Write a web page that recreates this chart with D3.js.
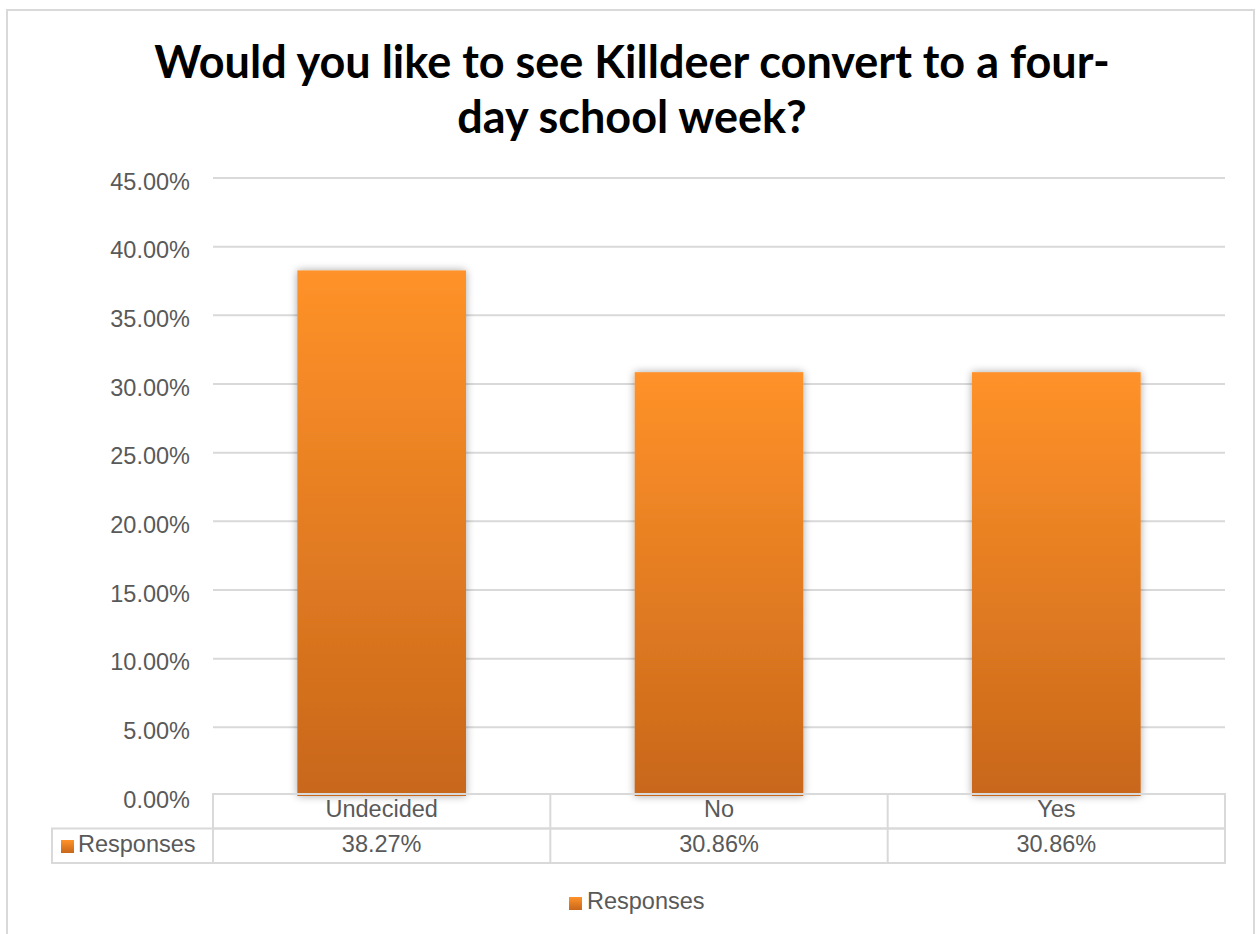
<!DOCTYPE html>
<html>
<head>
<meta charset="utf-8">
<script src="https://cdn.jsdelivr.net/npm/d3@7"></script>
<style>
  html, body { margin: 0; padding: 0; background: #fff; }
  svg { display: block; }
</style>
</head>
<body>
<svg id="chart" width="1258" height="934"></svg>
<script>
const titleLines = ["Would you like to see Killdeer convert to a four-", "day school week?"];
const categories = ["Undecided", "No", "Yes"];
const seriesName = "Responses";
const values = [38.27, 30.86, 30.86];
const valueLabels = ["38.27%", "30.86%", "30.86%"];
const yTicks = [0, 5, 10, 15, 20, 25, 30, 35, 40, 45];

const svg = d3.select("#chart");
const plot = { left: 213, right: 1225, top: 178, bottom: 796 };
const textColor = "#595959";
const gridColor = "#d9d9d9";
const font = "'Liberation Sans', Arial, sans-serif";
const fs = 23.5;

// defs: gradient + shadow
const defs = svg.append("defs");
const grad = defs.append("linearGradient").attr("id", "barGrad")
  .attr("x1", 0).attr("y1", 0).attr("x2", 0).attr("y2", 1);
grad.append("stop").attr("offset", "0%").attr("stop-color", "#ff9229");
grad.append("stop").attr("offset", "100%").attr("stop-color", "#c8671b");
const filt = defs.append("filter").attr("id", "shadow")
  .attr("x", "-20%").attr("y", "-5%").attr("width", "140%").attr("height", "110%");
filt.append("feGaussianBlur").attr("in", "SourceAlpha").attr("stdDeviation", 4).attr("result", "b");
filt.append("feComponentTransfer").attr("in", "b").attr("result", "s")
  .append("feFuncA").attr("type", "linear").attr("slope", 0.35);
const merge = filt.append("feMerge");
merge.append("feMergeNode").attr("in", "s");
merge.append("feMergeNode").attr("in", "SourceGraphic");

// outer border
svg.append("rect").attr("x", 7).attr("y", 10).attr("width", 1247).attr("height", 940)
  .attr("fill", "#fff").attr("stroke", gridColor).attr("stroke-width", 2);

// title
svg.append("text")
  .attr("x", 632).attr("y", 78)
  .attr("text-anchor", "middle")
  .attr("font-family", "Lato, 'Open Sans', sans-serif")
  .attr("font-weight", "bold")
  .attr("font-size", 45)
  .attr("fill", "#000")
  .selectAll("tspan").data(titleLines).join("tspan")
  .attr("x", 632).attr("dy", (d, i) => i === 0 ? 0 : 55)
  .text(d => d);

// scales
const x = d3.scaleBand().domain(categories).range([plot.left, plot.right]).paddingInner(0.5).paddingOuter(0.25);
const xCell = d3.scaleBand().domain(categories).range([plot.left, plot.right]);
const y = d3.scaleLinear().domain([0, 45]).range([plot.bottom, plot.top]);

// gridlines
svg.append("g").selectAll("line").data(yTicks.filter(d => d > 0)).join("line")
  .attr("x1", plot.left).attr("x2", plot.right)
  .attr("y1", d => y(d)).attr("y2", d => y(d))
  .attr("stroke", gridColor).attr("stroke-width", 2);

// y axis labels
const yAxis = d3.axisLeft(y).tickValues(yTicks).tickFormat(d => d.toFixed(2) + "%").tickSize(0).tickPadding(0);
const gy = svg.append("g").attr("transform", `translate(190,0)`).call(yAxis);
gy.select(".domain").remove();
gy.selectAll("text").attr("font-family", font).attr("font-size", fs).attr("fill", textColor).attr("dy", 11);

// bars
svg.append("g").selectAll("rect").data(values).join("rect")
  .attr("x", (d, i) => x(categories[i]))
  .attr("width", x.bandwidth())
  .attr("y", d => y(d))
  .attr("height", d => y(0) - y(d))
  .attr("fill", "url(#barGrad)")
  .attr("filter", "url(#shadow)");

// data table
const tableTop = 794, rowH = 34.5, tableLeft = 52;
const tg = svg.append("g");
tg.append("rect").attr("x", plot.left).attr("y", tableTop).attr("width", plot.right - plot.left).attr("height", rowH)
  .attr("fill", "none").attr("stroke", gridColor).attr("stroke-width", 2);
tg.append("rect").attr("x", tableLeft).attr("y", tableTop + rowH).attr("width", plot.right - tableLeft).attr("height", rowH)
  .attr("fill", "none").attr("stroke", gridColor).attr("stroke-width", 2);
tg.selectAll("line.col").data(categories).join("line")
  .attr("class", "col")
  .attr("x1", d => xCell(d)).attr("x2", d => xCell(d))
  .attr("y1", tableTop).attr("y2", tableTop + 2 * rowH)
  .attr("stroke", gridColor).attr("stroke-width", 2);
tg.selectAll("text.cat").data(categories).join("text")
  .attr("class", "cat")
  .attr("x", d => xCell(d) + xCell.bandwidth() / 2)
  .attr("y", 817)
  .attr("text-anchor", "middle")
  .attr("font-family", font).attr("font-size", fs).attr("fill", textColor)
  .text(d => d);
tg.selectAll("text.val").data(valueLabels).join("text")
  .attr("class", "val")
  .attr("x", (d, i) => xCell(categories[i]) + xCell.bandwidth() / 2)
  .attr("y", 852)
  .attr("text-anchor", "middle")
  .attr("font-family", font).attr("font-size", fs).attr("fill", textColor)
  .text(d => d);
tg.append("rect").attr("x", 61).attr("y", 840).attr("width", 13).attr("height", 13).attr("fill", "url(#barGrad)");
tg.append("text").attr("x", 78).attr("y", 852)
  .attr("font-family", font).attr("font-size", fs).attr("fill", textColor).text(seriesName);

// bottom legend
const lg = svg.append("g");
lg.append("rect").attr("x", 569).attr("y", 897).attr("width", 13).attr("height", 13).attr("fill", "url(#barGrad)");
lg.append("text").attr("x", 587).attr("y", 909)
  .attr("font-family", font).attr("font-size", fs).attr("fill", textColor).text(seriesName);
</script>
</body>
</html>
